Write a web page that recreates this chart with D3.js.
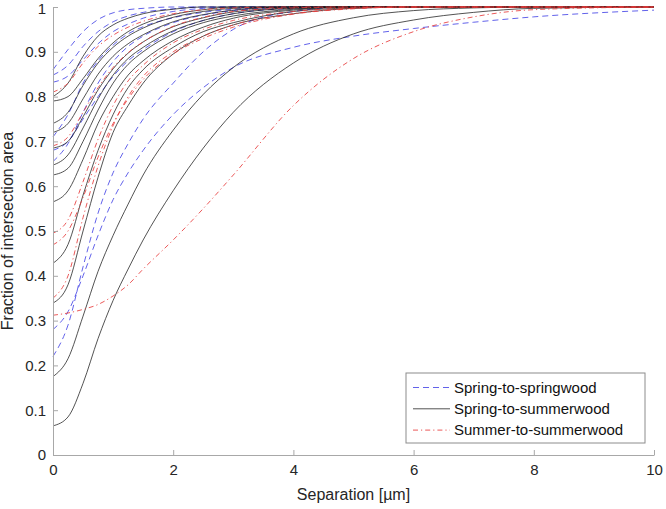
<!DOCTYPE html>
<html>
<head>
<meta charset="utf-8">
<script src="https://cdn.jsdelivr.net/npm/d3@7"></script>
<style>
  body { margin: 0; background: #fff; }
  svg { font-family: "Liberation Sans", Arial, Helvetica, sans-serif; }
  .axis path, .axis line { stroke: #a8a8a8; }
  .axis text { fill: #262626; font-size: 15px; }
</style>
</head>
<body>
<svg id="chart" width="666" height="509"></svg>
<script>
// separation values (µm) at which every curve is sampled
var separation = [0, 0.25, 0.5, 0.75, 1, 1.25, 1.5, 2, 2.5, 3, 4, 5, 6, 7, 8, 10];

// Spring-to-springwood (blue dashed)
var springSpring = [
  [0.86, 0.905, 0.945, 0.972, 0.987, 0.994, 0.997, 1, 1, 1, 1, 1, 1, 1, 1, 1],
  [0.848, 0.87, 0.912, 0.945, 0.967, 0.98, 0.988, 0.996, 1, 1, 1, 1, 1, 1, 1, 1],
  [0.832, 0.846, 0.882, 0.918, 0.945, 0.962, 0.975, 0.99, 0.997, 1, 1, 1, 1, 1, 1, 1],
  [0.71, 0.76, 0.83, 0.88, 0.915, 0.94, 0.956, 0.976, 0.988, 0.995, 1, 1, 1, 1, 1, 1],
  [0.655, 0.695, 0.765, 0.83, 0.878, 0.912, 0.935, 0.965, 0.982, 0.992, 0.999, 1, 1, 1, 1, 1],
  [0.68, 0.70, 0.75, 0.80, 0.845, 0.88, 0.905, 0.945, 0.97, 0.985, 0.997, 1, 1, 1, 1, 1],
  [0.22, 0.29, 0.42, 0.54, 0.63, 0.695, 0.75, 0.83, 0.90, 0.95, 0.99, 1, 1, 1, 1, 1],
  [0.28, 0.32, 0.40, 0.49, 0.57, 0.63, 0.68, 0.76, 0.82, 0.865, 0.91, 0.935, 0.952, 0.966, 0.978, 0.993]
];

// Spring-to-summerwood (black solid)
var springSummer = [
  [0.80, 0.83, 0.89, 0.935, 0.96, 0.975, 0.985, 0.995, 1, 1, 1, 1, 1, 1, 1, 1],
  [0.79, 0.80, 0.84, 0.885, 0.92, 0.945, 0.962, 0.983, 0.994, 1, 1, 1, 1, 1, 1, 1],
  [0.74, 0.765, 0.825, 0.875, 0.91, 0.935, 0.953, 0.977, 0.99, 0.997, 1, 1, 1, 1, 1, 1],
  [0.72, 0.74, 0.795, 0.85, 0.89, 0.918, 0.938, 0.967, 0.983, 0.993, 1, 1, 1, 1, 1, 1],
  [0.685, 0.70, 0.755, 0.815, 0.862, 0.897, 0.922, 0.956, 0.976, 0.989, 0.998, 1, 1, 1, 1, 1],
  [0.647, 0.67, 0.73, 0.795, 0.848, 0.885, 0.91, 0.947, 0.97, 0.985, 0.997, 1, 1, 1, 1, 1],
  [0.625, 0.64, 0.70, 0.77, 0.83, 0.872, 0.90, 0.94, 0.965, 0.98, 0.995, 1, 1, 1, 1, 1],
  [0.565, 0.59, 0.66, 0.74, 0.80, 0.848, 0.88, 0.925, 0.955, 0.975, 0.993, 1, 1, 1, 1, 1],
  [0.428, 0.47, 0.58, 0.68, 0.76, 0.82, 0.86, 0.91, 0.945, 0.965, 0.99, 0.998, 1, 1, 1, 1],
  [0.339, 0.38, 0.50, 0.62, 0.72, 0.78, 0.83, 0.895, 0.935, 0.96, 0.985, 0.997, 1, 1, 1, 1],
  [0.175, 0.215, 0.31, 0.41, 0.49, 0.56, 0.625, 0.725, 0.805, 0.865, 0.94, 0.976, 0.992, 0.998, 1, 1],
  [0.065, 0.085, 0.16, 0.26, 0.345, 0.415, 0.48, 0.59, 0.685, 0.765, 0.875, 0.94, 0.971, 0.988, 0.997, 1]
];

// Summer-to-summerwood (red dash-dot)
var summerSummer = [
  [0.81, 0.83, 0.875, 0.912, 0.937, 0.955, 0.968, 0.985, 0.994, 0.998, 1, 1, 1, 1, 1, 1],
  [0.69, 0.71, 0.765, 0.82, 0.865, 0.898, 0.922, 0.957, 0.977, 0.99, 0.998, 1, 1, 1, 1, 1],
  [0.495, 0.525, 0.61, 0.705, 0.78, 0.835, 0.87, 0.92, 0.95, 0.97, 0.99, 0.998, 1, 1, 1, 1],
  [0.469, 0.50, 0.575, 0.665, 0.74, 0.795, 0.838, 0.895, 0.93, 0.955, 0.984, 0.996, 1, 1, 1, 1],
  [0.35, 0.40, 0.53, 0.645, 0.735, 0.80, 0.845, 0.90, 0.935, 0.96, 0.985, 0.997, 1, 1, 1, 1],
  [0.312, 0.317, 0.325, 0.336, 0.355, 0.38, 0.415, 0.48, 0.55, 0.625, 0.78, 0.885, 0.945, 0.978, 0.994, 1]
];

var xTicks = [0, 2, 4, 6, 8, 10];
var yTicks = [0, 0.1, 0.2, 0.3, 0.4, 0.5, 0.6, 0.7, 0.8, 0.9, 1];

var groups = [
  {lbl: "Spring-to-springwood", data: springSpring, color: "#4646e6", dash: "6,4", op: 0.85},
  {lbl: "Spring-to-summerwood", data: springSummer, color: "#1a1a1a", dash: null, op: 0.75},
  {lbl: "Summer-to-summerwood", data: summerSummer, color: "#e83c3c", dash: "5,3,1.2,3", op: 0.85}
];

var svg = d3.select("#chart"),
    margin = {top: 7, right: 12, bottom: 54, left: 53},
    width = +svg.attr("width") - margin.left - margin.right,
    height = +svg.attr("height") - margin.top - margin.bottom;

var x = d3.scaleLinear().domain([0, 10]).range([0, width]);
var y = d3.scaleLinear().domain([0, 1]).range([height, 0]);

var g = svg.append("g").attr("transform", "translate(" + margin.left + "," + margin.top + ")");

var line = d3.line()
    .x(function (d, i) { return x(separation[i]); })
    .y(function (d) { return y(d); })
    .curve(d3.curveMonotoneX);

groups.forEach(function (grp) {
  g.selectAll(null).data(grp.data).enter().append("path")
    .attr("d", line)
    .attr("fill", "none")
    .attr("stroke", grp.color)
    .attr("stroke-opacity", grp.op)
    .attr("stroke-width", 1)
    .attr("stroke-dasharray", grp.dash);
});

// axes, ticks pointing inward like matlab
var xAxis = g.append("g").attr("class", "axis")
    .attr("transform", "translate(0," + height + ")")
    .call(d3.axisBottom(x).tickValues(xTicks).tickSizeInner(-5).tickSizeOuter(0).tickPadding(9));
var yAxis = g.append("g").attr("class", "axis")
    .call(d3.axisLeft(y).tickValues(yTicks).tickSizeInner(-5).tickSizeOuter(0).tickPadding(7)
      .tickFormat(function (d) { return d === 0 || d === 1 ? d : d3.format(".1f")(d); }));
xAxis.select(".domain").attr("stroke", "#a8a8a8");
yAxis.select(".domain").attr("stroke", "#a8a8a8");
// keep the top "1" fully inside the picture
yAxis.selectAll(".tick text").filter(function (d) { return d === 1; }).attr("dy", "0.45em");

// axis titles
svg.append("text")
  .attr("x", margin.left + width / 2).attr("y", 500)
  .attr("text-anchor", "middle").attr("fill", "#262626").style("font-size", "16px")
  .text("Separation [µm]");
svg.append("text")
  .attr("transform", "translate(13," + (margin.top + height / 2) + ") rotate(-90)")
  .attr("text-anchor", "middle").attr("fill", "#262626").style("font-size", "16px")
  .text("Fraction of intersection area");

// legend
var leg = svg.append("g").attr("transform", "translate(406,373)");
leg.append("rect").attr("width", 239).attr("height", 70)
  .attr("fill", "#fff").attr("stroke", "#8c8c8c").attr("stroke-width", 1);
groups.forEach(function (grp, i) {
  var yy = 14.5 + i * 21.3;
  leg.append("line").attr("x1", 7).attr("x2", 44).attr("y1", yy).attr("y2", yy)
    .attr("stroke", grp.color).attr("stroke-opacity", grp.op)
    .attr("stroke-dasharray", grp.dash);
  leg.append("text").attr("x", 48).attr("y", yy).attr("dy", "0.35em")
    .attr("fill", "#111").style("font-size", "15px").text(grp.lbl);
});
</script>
</body>
</html>
